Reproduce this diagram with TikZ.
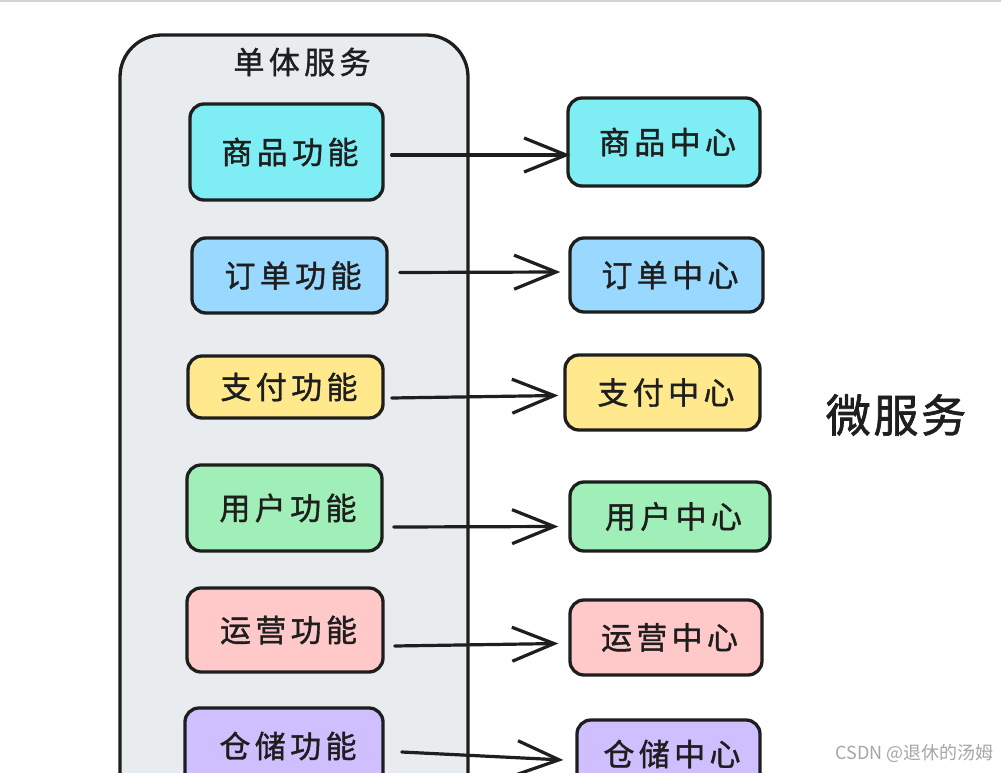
\documentclass[tikz,border=0pt]{standalone}
\usepackage{fontspec}
\setmainfont{Noto Sans CJK SC}
\newfontfamily\hand[LetterSpace=14,FakeBold=1.2]{Noto Sans CJK SC}
\newfontfamily\handbig[LetterSpace=6,FakeBold=1.5]{Noto Sans CJK SC}
\usetikzlibrary{arrows.meta}
\definecolor{ink}{HTML}{1E1E1E}
\definecolor{cont}{HTML}{E8ECEF}
\definecolor{ccyan}{HTML}{7EEEF4}
\definecolor{cblue}{HTML}{99D9FF}
\definecolor{cyellow}{HTML}{FFE98C}
\definecolor{cgreen}{HTML}{A0EFB8}
\definecolor{cpink}{HTML}{FFC9C9}
\definecolor{cpurple}{HTML}{D0BFFF}
\tikzset{
  lbl/.style={font=\hand\fontsize{31}{33}\selectfont, text=ink},
  box/.style={draw=ink, line width=3.3pt, rounded corners=14pt, inner sep=0pt, lbl},
  arr/.style={draw=ink, line width=3.2pt, line cap=round,
    -{Straight Barb[length=42pt,width=34pt,line width=3.2pt]}},
}
\begin{document}
\begin{tikzpicture}[x=1pt,y=-1pt]
\useasboundingbox (0,0) rectangle (1001,773);
\clip (0,0) rectangle (1001,773);
\fill[white] (0,0) rectangle (1001,773);
\draw[gray!35, line width=1.5pt] (0,1) -- (1001,1);
% container
\node[draw=ink, fill=cont, line width=3.3pt, rounded corners=42pt,
  minimum width=348, minimum height=790, inner sep=0pt] (cont) at (294,430) {};
\node[lbl] (title) at (302,62) {单体服务};
% left boxes
\node[box, fill=ccyan, minimum width=193, minimum height=96] (l1) at (286.5,152) {\hspace*{7pt}商品功能};
\node[box, fill=cblue, minimum width=195, minimum height=75] (l2) at (289.5,275.5) {\hspace*{7pt}订单功能};
\node[box, fill=cyellow, minimum width=195, minimum height=62] (l3) at (285.5,387) {\hspace*{7pt}支付功能};
\node[box, fill=cgreen, minimum width=195, minimum height=86] (l4) at (284.5,508) {\hspace*{7pt}用户功能};
\node[box, fill=cpink, minimum width=196, minimum height=84] (l5) at (285,630) {\hspace*{7pt}运营功能};
\node[box, fill=cpurple, minimum width=198, minimum height=84] (l6) at (284,750) {};
\node[lbl] (l6t) at (288,746) {仓储功能};
% right boxes
\node[box, fill=ccyan, minimum width=192, minimum height=88] (r1) at (664,142) {\hspace*{7pt}商品中心};
\node[box, fill=cblue, minimum width=193, minimum height=74] (r2) at (666.5,275) {\hspace*{7pt}订单中心};
\node[box, fill=cyellow, minimum width=195, minimum height=75] (r3) at (662.5,392.5) {\hspace*{7pt}支付中心};
\node[box, fill=cgreen, minimum width=200, minimum height=69] (r4) at (670,516.5) {\hspace*{7pt}用户中心};
\node[box, fill=cpink, minimum width=192, minimum height=75] (r5) at (666,637.5) {\hspace*{7pt}运营中心};
\node[box, fill=cpurple, minimum width=183, minimum height=90] (r6) at (668.5,765) {};
\node[lbl] (r6t) at (672,754) {仓储中心};
% arrows
\draw[arr] ([shift={(7,3)}]l1.east) -- ([shift={(4,13)}]r1.west);
\draw[arr] ([shift={(11,-3)}]l2.east) -- ([shift={(-8,-3)}]r2.west);
\draw[arr] ([shift={(7,11)}]l3.east) -- ([shift={(-5,3)}]r3.west);
\draw[arr] ([shift={(10,19)}]l4.east) -- ([shift={(-10,10)}]r4.west);
\draw[arr] ([shift={(10,16)}]l5.east) -- ([shift={(-10,6)}]r5.west);
\draw[arr] ([shift={(17,2)}]l6.east) -- ([shift={(-12,-5)}]r6.west);
% right label
\node[font=\handbig\fontsize{45}{47}\selectfont, text=ink] (ms) at (896,415) {微服务};
% watermark
\node[font=\fontsize{18}{19}\selectfont, text=gray!70, anchor=east] (wm) at (997,753) {CSDN @退休的汤姆};
\end{tikzpicture}
\end{document}
